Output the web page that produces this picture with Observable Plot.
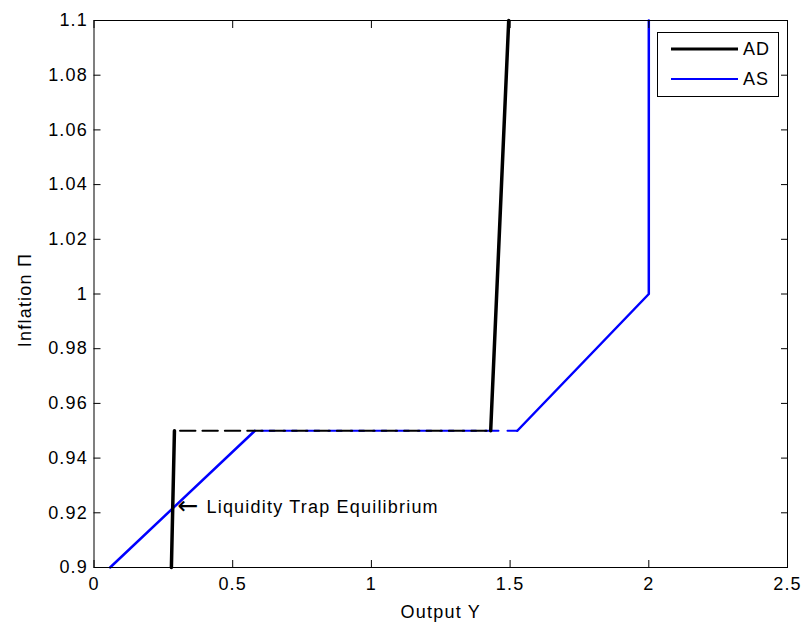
<!DOCTYPE html>
<html>
<head>
<meta charset="utf-8">
<script src="https://cdn.jsdelivr.net/npm/d3@7"></script>
<script src="https://cdn.jsdelivr.net/npm/@observablehq/plot@0.6"></script>
<style>
  html, body { margin: 0; padding: 0; background: #fff; }
  #chart { position: relative; width: 806px; height: 631px; }
  #legend {
    position: absolute; left: 657px; top: 32px; width: 122px; height: 65px;
    border: 1px solid #000; background: #fff; box-sizing: border-box;
    font-family: "Liberation Sans", Arial, sans-serif; font-size: 18px; letter-spacing: 1px;
  }
  #legend .row { position: absolute; left: 0; display: flex; align-items: center; }
  #legend svg { display: block; }
</style>
</head>
<body>
<div id="chart"></div>
<script>
// Aggregate demand: steep lower branch, flat (dashed) floor at the ZLB, steep upper branch
const adLowerX = [0.279, 0.29];
const adLowerY = [0.9, 0.95];
const adFlatX = [0.29, 1.43];
const adFlatY = [0.95, 0.95];
const adUpperX = [1.43, 1.495];
const adUpperY = [0.95, 1.1];

// Aggregate supply: rising segment, flat (dashed) segment, rising segment, vertical at capacity
const asRiseX = [0.058, 0.58];
const asRiseY = [0.9, 0.95];
const asFlatX = [0.58, 1.526];
const asFlatY = [0.95, 0.95];
const asUpperX = [1.526, 2.0, 2.0];
const asUpperY = [0.95, 1.0, 1.1];

// Annotation at the liquidity-trap intersection
const noteX = [0.301];
const noteY = [0.922];
const noteArrow = ["\u2190"];
const noteText = ["Liquidity Trap Equilibrium"];

// Axis ticks and labels
const xTicks = [0, 0.5, 1, 1.5, 2, 2.5];
const xTickLabels = ["0", "0.5", "1", "1.5", "2", "2.5"];
const yTicks = [0.9, 0.92, 0.94, 0.96, 0.98, 1, 1.02, 1.04, 1.06, 1.08, 1.1];
const yTickLabels = ["0.9", "0.92", "0.94", "0.96", "0.98", "1", "1.02", "1.04", "1.06", "1.08", "1.1"];
const xTitle = "Output Y";
const yTitle = "Inflation \u03a0";

const series = [
  {name: "AD", color: "#000000", width: 3},
  {name: "AS", color: "#0000ff", width: 2}
];

const pts = (xs, ys) => xs.map((x, i) => ({x, y: ys[i]}));
const xLabel = (d) => xTickLabels[xTicks.indexOf(d)];
const yLabel = (d) => yTickLabels[yTicks.indexOf(d)];

const chart = Plot.plot({
  width: 806,
  height: 631,
  marginLeft: 93.5,
  marginRight: 19,
  marginTop: 20,
  marginBottom: 64,
  style: {fontFamily: "'Liberation Sans', Arial, sans-serif", fontSize: "18px", letterSpacing: "1.2px", color: "#000", background: "#fff"},
  x: {domain: [0, 2.5]},
  y: {domain: [0.9, 1.1]},
  marks: [
    // AS drawn first so the AD dashes sit on top of it
    Plot.line(pts(asRiseX, asRiseY), {x: "x", y: "y", stroke: "#0000ff", strokeWidth: 2.5}),
    Plot.line(pts(asFlatX, asFlatY), {x: "x", y: "y", stroke: "#0000ff", strokeWidth: 2, strokeDasharray: "13.4,9", strokeDashoffset: 16.2}),
    Plot.line(pts(asUpperX, asUpperY), {x: "x", y: "y", stroke: "#0000ff", strokeWidth: 2.5}),
    Plot.line(pts(adFlatX, adFlatY), {x: "x", y: "y", stroke: "#000", strokeWidth: 2, strokeDasharray: "15.4,7", strokeDashoffset: 16.8}),
    Plot.line(pts(adLowerX, adLowerY), {x: "x", y: "y", stroke: "#000", strokeWidth: 3.5}),
    Plot.line(pts(adUpperX, adUpperY), {x: "x", y: "y", stroke: "#000", strokeWidth: 3.5}),
    Plot.text(noteArrow, {x: noteX, y: noteY, text: (d) => d, textAnchor: "start", fill: "#000", fontSize: 25, fontFamily: "DejaVu Sans", dy: -1}),
    Plot.text(noteText, {x: noteX, y: noteY, text: (d) => d, textAnchor: "start", fill: "#000", fontSize: 18, dx: 29}),
    // box with inward ticks on all four sides
    Plot.axisX(xTicks, {anchor: "bottom", tickSize: -7, tickPadding: 17, tickFormat: xLabel, label: null}),
    Plot.axisX(xTicks, {anchor: "top", tickSize: -7, tickFormat: () => "", label: null}),
    Plot.axisY(yTicks, {anchor: "left", tickSize: -7, tickPadding: 13, tickFormat: yLabel, label: null}),
    Plot.axisY(yTicks, {anchor: "right", tickSize: -7, tickFormat: () => "", label: null}),
    Plot.text([xTitle], {frameAnchor: "bottom", textAnchor: "middle", dy: 50, fill: "#000", fontSize: 18}),
    Plot.text([yTitle], {frameAnchor: "left", textAnchor: "middle", rotate: -90, dx: -69, dy: 6, fill: "#000", fontSize: 18}),
    Plot.frame({stroke: "#000", strokeWidth: 1})
  ]
});

const host = document.getElementById("chart");
host.appendChild(chart);

// Legend box in the upper-right corner of the axes
const legend = document.createElement("div");
legend.id = "legend";
series.forEach((s, i) => {
  const row = document.createElement("div");
  row.className = "row";
  row.style.top = (i === 0 ? 4 : 34) + "px";
  row.style.height = "24px";
  const sw = d3.create("svg").attr("width", 85).attr("height", 24);
  sw.append("line").attr("x1", 13).attr("x2", 80).attr("y1", 12).attr("y2", 12)
    .attr("stroke", s.color).attr("stroke-width", s.width);
  row.appendChild(sw.node());
  const label = document.createElement("span");
  label.textContent = s.name;
  row.appendChild(label);
  legend.appendChild(row);
});
host.appendChild(legend);
</script>
</body>
</html>
